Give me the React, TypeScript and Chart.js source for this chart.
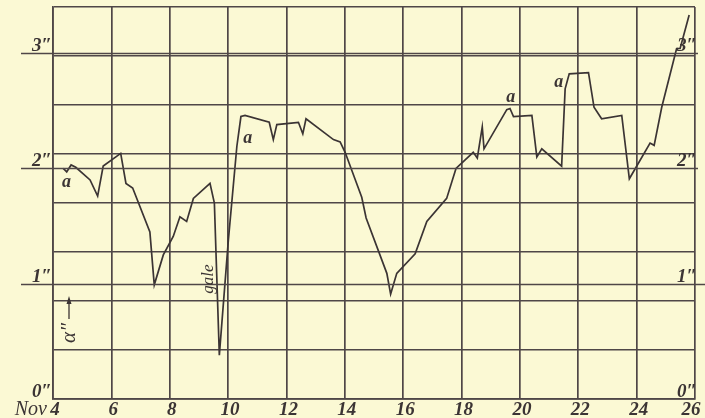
import React, { useEffect, useRef } from "react";
import { Chart, registerables } from "chart.js";

Chart.register(...registerables);

// Day of November (fractional) and gauge reading in inches
const days = [
  4.35, 4.47, 4.62, 4.78, 5.27, 5.53, 5.72, 6.32, 6.5, 6.73, 7.32, 7.47, 7.78,
  8.12, 8.35, 8.58, 8.81, 9.38, 9.53, 9.7, 10.01, 10.3, 10.44, 10.58, 11.41,
  11.55, 11.67, 12.41, 12.56, 12.67, 13.61, 13.84, 14.01, 14.58, 14.73, 15.44,
  15.57, 15.78, 16.41, 16.81, 17.49, 17.81, 18.4, 18.54, 18.71, 18.77, 19.55,
  19.66, 19.78, 20.41, 20.58, 20.75, 21.43, 21.55, 21.69, 22.35, 22.54, 22.8,
  23.49, 23.75, 24.46, 24.6, 24.86, 25.37, 25.49, 25.8,
];
const inches = [
  2.0, 1.97, 2.03, 2.01, 1.9, 1.76, 2.02, 2.13, 1.87, 1.83, 1.45, 0.99, 1.25,
  1.41, 1.58, 1.54, 1.74, 1.87, 1.7, 0.38, 1.38, 2.19, 2.45, 2.46, 2.4, 2.25,
  2.38, 2.4, 2.3, 2.43, 2.25, 2.23, 2.14, 1.75, 1.57, 1.09, 0.91, 1.09, 1.26,
  1.54, 1.74, 2.0, 2.14, 2.09, 2.36, 2.17, 2.51, 2.52, 2.45, 2.46, 2.1, 2.17,
  2.02, 2.69, 2.82, 2.83, 2.53, 2.43, 2.46, 1.91, 2.22, 2.2, 2.53, 3.04, 3.04,
  3.33,
];

// Axis labels
const dayTicks = [4, 6, 8, 10, 12, 14, 16, 18, 20, 22, 24, 26];
const inchTicks = [0, 1, 2, 3];
// Ruled paper rows (every 0.425 in.)
const gridRows = [0, 0.425, 0.85, 1.275, 1.7, 2.125, 2.55, 2.975, 3.4];

// Letter notes placed on the curve
const notes = [
  { text: "a", day: 4.46, value: 1.88 },
  { text: "a", day: 10.67, value: 2.26 },
  { text: "a", day: 19.69, value: 2.62 },
  { text: "a", day: 21.33, value: 2.75 },
];

const PAPER = "#fbf9d4";
const INK = "#3b3434";
const RULE = "#4f4747";
const NUM_FONT = "italic bold 19px 'Liberation Serif', serif";

const paperPlugin = {
  id: "paper",
  beforeDraw(chart: Chart) {
    const { ctx, width, height } = chart;
    ctx.save();
    ctx.fillStyle = PAPER;
    ctx.fillRect(0, 0, width, height);
    ctx.restore();
  },
};

const labelsPlugin = {
  id: "labels",
  afterDraw(chart: Chart) {
    const { ctx, chartArea } = chart;
    const xs = chart.scales.x;
    const ys = chart.scales.y;
    ctx.save();

    // inch rules, carried past the frame
    ctx.strokeStyle = RULE;
    ctx.lineWidth = 1.6;
    inchTicks.forEach((v) => {
      if (v === 0) return;
      const y = Math.round(ys.getPixelForValue(v)) + 0.5;
      ctx.beginPath();
      ctx.moveTo(21, y);
      ctx.lineTo(v === 1 ? 705 : chartArea.right + 3, y);
      ctx.stroke();
    });

    // inch labels on both sides
    ctx.fillStyle = INK;
    ctx.font = NUM_FONT;
    ctx.textBaseline = "alphabetic";
    inchTicks.forEach((v) => {
      const y = ys.getPixelForValue(v) - 2;
      ctx.textAlign = "right";
      ctx.fillText(v + "\u2033", chartArea.left - 1, y);
      ctx.fillText(v + "\u2033", chartArea.right + 2, y);
    });

    // day labels
    ctx.textAlign = "center";
    ctx.textBaseline = "bottom";
    dayTicks.forEach((d, i) => {
      const x = xs.getPixelForValue(d);
      ctx.fillText(String(d), i === dayTicks.length - 1 ? x - 4 : x + 2, 420);
    });
    ctx.textAlign = "right";
    ctx.font = "italic 20px 'Liberation Serif', serif";
    ctx.fillText("Nov", chartArea.left - 6, 420);

    // notes on the curve
    ctx.font = "italic bold 18px 'Liberation Serif', serif";
    ctx.textAlign = "center";
    ctx.textBaseline = "middle";
    notes.forEach((n) => {
      ctx.fillText(n.text, xs.getPixelForValue(n.day), ys.getPixelForValue(n.value));
    });

    // "gale", written upward beside the low
    ctx.save();
    ctx.translate(xs.getPixelForValue(9.32), ys.getPixelForValue(1.04));
    ctx.rotate(-Math.PI / 2);
    ctx.font = "italic 17px 'Liberation Serif', serif";
    ctx.fillText("gale", 0, 0);
    ctx.restore();

    // alpha mark with its arrow
    const ax = chartArea.left + 16;
    ctx.save();
    ctx.translate(ax, 333);
    ctx.rotate(-Math.PI / 2);
    ctx.font = "italic 21px 'Liberation Serif', serif";
    ctx.fillText("\u03b1\u2033", 0, 0);
    ctx.restore();
    ctx.strokeStyle = INK;
    ctx.lineWidth = 1.3;
    ctx.beginPath();
    ctx.moveTo(ax, 319);
    ctx.lineTo(ax, 299);
    ctx.stroke();
    ctx.beginPath();
    ctx.moveTo(ax, 296);
    ctx.lineTo(ax - 2.5, 304);
    ctx.lineTo(ax + 2.5, 304);
    ctx.closePath();
    ctx.fill();

    ctx.restore();
  },
};

export default function App() {
  const canvasRef = useRef<HTMLCanvasElement | null>(null);

  useEffect(() => {
    if (!canvasRef.current) return;
    const chart = new Chart(canvasRef.current, {
      type: "line",
      data: {
        datasets: [
          {
            data: days.map((d, i) => ({ x: d, y: inches[i] })),
            borderColor: INK,
            borderWidth: 1.7,
            pointRadius: 0,
            tension: 0,
            fill: false,
          },
        ],
      },
      options: {
        animation: false,
        responsive: false,
        devicePixelRatio: 1,
        layout: { padding: { left: 53, right: 10, top: 7, bottom: 19 } },
        plugins: { legend: { display: false }, tooltip: { enabled: false } },
        scales: {
          x: {
            type: "linear",
            min: 4,
            max: 26,
            afterBuildTicks: (scale: any) => {
              scale.ticks = dayTicks.map((v) => ({ value: v }));
            },
            ticks: { display: false },
            grid: { color: RULE, lineWidth: 1.7, drawTicks: false },
            border: { display: true, color: RULE, width: 1.7 },
          },
          y: {
            type: "linear",
            min: 0,
            max: 3.4,
            afterBuildTicks: (scale: any) => {
              scale.ticks = gridRows.map((v) => ({ value: v }));
            },
            ticks: { display: false },
            grid: { color: RULE, lineWidth: 1.5, drawTicks: false },
            border: { display: true, color: RULE, width: 1.7 },
          },
        },
      },
      plugins: [paperPlugin, labelsPlugin],
    });
    return () => chart.destroy();
  }, []);

  return (
    <div
      style={{
        position: "fixed",
        left: 0,
        top: 0,
        width: 705,
        height: 418,
        background: PAPER,
      }}
    >
      <canvas ref={canvasRef} width={705} height={418} style={{ display: "block" }} />
    </div>
  );
}
